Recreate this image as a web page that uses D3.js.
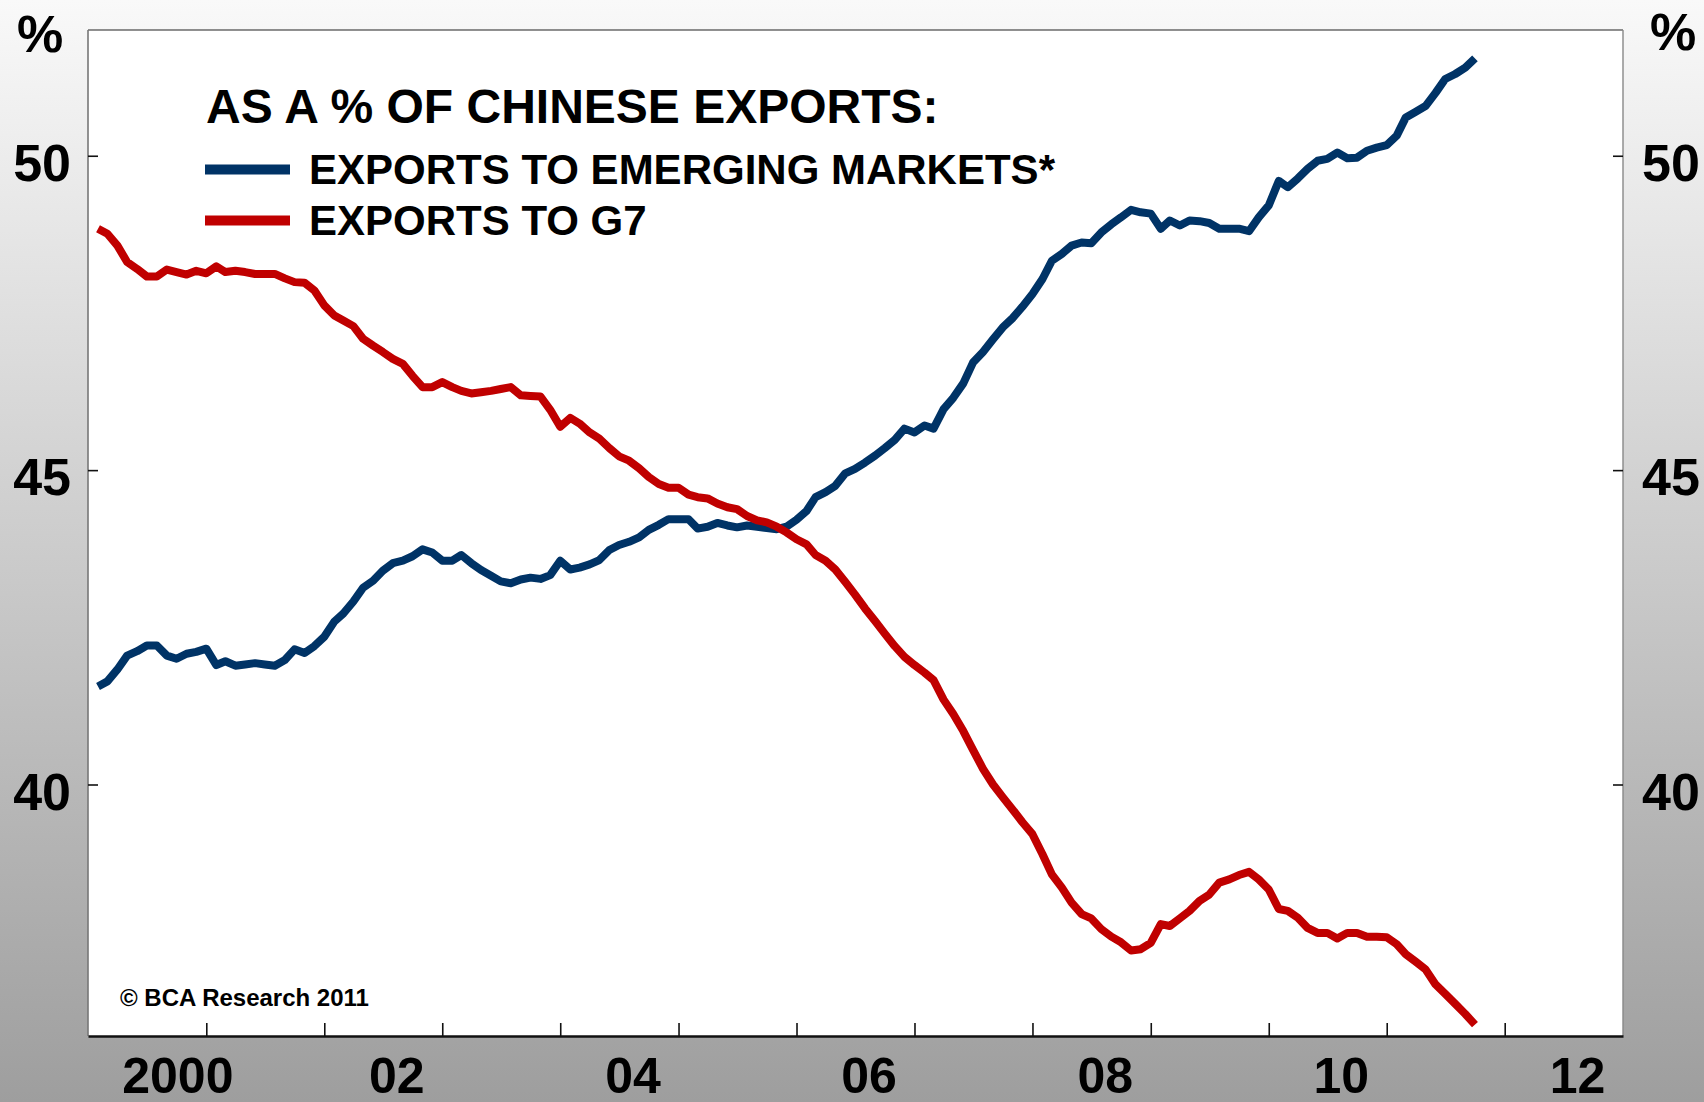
<!DOCTYPE html>
<html>
<head>
<meta charset="utf-8">
<script src="https://cdn.jsdelivr.net/npm/d3@7"></script>
<style>
  body { margin: 0; padding: 0; background: #ffffff; }
  text { font-family: "Liberation Sans", Arial, sans-serif; font-weight: bold; fill: #000; }
</style>
</head>
<body>
<div id="chart"></div>
<script>
// Chart data (monthly, starting Feb 2000)

var startMonth = "2000-02";

var emShare = [
  41.56, 41.64, 41.83, 42.05, 42.12, 42.21, 42.21, 42.05, 42.00, 42.08, 42.11, 42.16,
  41.90, 41.96, 41.89, 41.91, 41.93, 41.91, 41.89, 41.98, 42.15, 42.09, 42.20, 42.35,
  42.59, 42.72, 42.91, 43.13, 43.24, 43.40, 43.52, 43.56, 43.63, 43.74, 43.69, 43.56,
  43.56, 43.65, 43.52, 43.41, 43.32, 43.23, 43.20, 43.26, 43.29, 43.27, 43.33, 43.56,
  43.42, 43.45, 43.50, 43.57, 43.73, 43.81, 43.86, 43.93, 44.05, 44.13, 44.22, 44.22,
  44.22, 44.07, 44.10, 44.16, 44.12, 44.09, 44.12, 44.10, 44.08, 44.06, 44.10, 44.21,
  44.35, 44.57, 44.65, 44.75, 44.95, 45.02, 45.12, 45.23, 45.35, 45.48, 45.66, 45.60,
  45.71, 45.66, 45.97, 46.15, 46.38, 46.71, 46.88, 47.08, 47.27, 47.42, 47.60, 47.80,
  48.04, 48.33, 48.44, 48.57, 48.62, 48.61, 48.78, 48.91, 49.02, 49.14, 49.10, 49.08,
  48.84, 48.97, 48.89, 48.97, 48.96, 48.93, 48.84, 48.84, 48.84, 48.80, 49.02, 49.21,
  49.60, 49.50, 49.64, 49.79, 49.92, 49.95, 50.05, 49.96, 49.97, 50.08, 50.13, 50.17,
  50.32, 50.61, 50.70, 50.79, 51.00, 51.22, 51.30, 51.40, 51.55
];

var g7Share = [
  48.84, 48.76, 48.57, 48.31, 48.20, 48.08, 48.08, 48.19, 48.15, 48.11, 48.17, 48.13,
  48.24, 48.15, 48.17, 48.15, 48.12, 48.12, 48.12, 48.05, 47.99, 47.98, 47.86, 47.62,
  47.46, 47.38, 47.29, 47.09, 46.98, 46.88, 46.77, 46.69, 46.50, 46.32, 46.32, 46.40,
  46.32, 46.26, 46.22, 46.24, 46.26, 46.29, 46.32, 46.19, 46.18, 46.17, 45.96, 45.69,
  45.83, 45.74, 45.60, 45.50, 45.35, 45.22, 45.15, 45.03, 44.89, 44.78, 44.72, 44.72,
  44.61, 44.57, 44.55, 44.47, 44.41, 44.38, 44.27, 44.20, 44.17, 44.10, 44.01, 43.90,
  43.82, 43.65, 43.56, 43.42, 43.22, 43.02, 42.80, 42.60, 42.40, 42.20, 42.03, 41.90,
  41.78, 41.66, 41.35, 41.12, 40.85, 40.55, 40.25, 40.00, 39.80, 39.60, 39.40, 39.21,
  38.89, 38.57, 38.36, 38.12, 37.94, 37.87, 37.70, 37.58, 37.49, 37.36, 37.38, 37.48,
  37.78, 37.75, 37.87, 37.99, 38.15, 38.25, 38.44, 38.49, 38.56, 38.61, 38.49, 38.33,
  38.02, 37.99, 37.88, 37.72, 37.64, 37.64, 37.55, 37.64, 37.64, 37.58, 37.58, 37.57,
  37.46, 37.30, 37.18, 37.06, 36.82, 36.67, 36.51, 36.35, 36.18
];

var yTicks = [40, 45, 50];
var yearTicks = [2001, 2002, 2003, 2004, 2005, 2006, 2007, 2008, 2009, 2010, 2011, 2012];
var labelYears = [2000, 2002, 2004, 2006, 2008, 2010, 2012];
var yearLabels = ["2000", "02", "04", "06", "08", "10", "12"];

var legendTitle = "AS A % OF CHINESE EXPORTS:";
var seriesNames = ["EXPORTS TO EMERGING MARKETS*", "EXPORTS TO G7"];
var seriesColors = ["#003366", "#c00000"];
var credit = "\u00A9 BCA Research 2011";

var svgWidth = 1704;
var svgHeight = 1102;

var margin = {
  top: 30,
  right: 81,
  bottom: 66,
  left: 88
};

var width = svgWidth - margin.left - margin.right;
var height = svgHeight - margin.top - margin.bottom;

var svg = d3.select("#chart")
  .append("svg")
  .attr("width", svgWidth)
  .attr("height", svgHeight);

// Grey gradient backdrop

var grad = svg.append("defs").append("linearGradient")
  .attr("id", "bg")
  .attr("x1", 0).attr("y1", 0)
  .attr("x2", 0).attr("y2", 1);
grad.append("stop").attr("offset", "0%").attr("stop-color", "#f9f9f9");
grad.append("stop").attr("offset", "100%").attr("stop-color", "#9e9e9e");

svg.append("rect")
  .attr("width", svgWidth)
  .attr("height", svgHeight)
  .attr("fill", "url(#bg)");

var chartGroup = svg.append("g")
  .attr("transform", `translate(${margin.left}, ${margin.top})`);

chartGroup.append("rect")
  .attr("width", width)
  .attr("height", height)
  .attr("fill", "#ffffff");

// Parse dates

var parseMonth = d3.timeParse("%Y-%m");
var first = parseMonth(startMonth);
var months = emShare.map((v, i) => d3.timeMonth.offset(first, i));

// Create scale functions

var xTimeScale = d3.scaleTime()
  .domain([new Date(2000, 0, 1), new Date(2013, 0, 1)])
  .range([0, width]);

var yLinearScale = d3.scaleLinear()
  .domain([36, 52])
  .range([height, 0]);

// Frame

chartGroup.append("line")
  .attr("x1", 0).attr("x2", width).attr("y1", 0).attr("y2", 0)
  .attr("stroke", "#222").attr("stroke-width", 1.2);
chartGroup.append("line")
  .attr("x1", 0).attr("x2", 0).attr("y1", 0).attr("y2", height)
  .attr("stroke", "#777").attr("stroke-width", 1.6);
chartGroup.append("line")
  .attr("x1", width).attr("x2", width).attr("y1", 0).attr("y2", height)
  .attr("stroke", "#888").attr("stroke-width", 1.4);

// Axes (ticks pointing inward)

var bottomAxis = d3.axisBottom(xTimeScale)
  .tickValues(yearTicks.map(y => new Date(y, 0, 1)))
  .tickSizeInner(-13)
  .tickSizeOuter(0)
  .tickFormat("");

var leftAxis = d3.axisLeft(yLinearScale)
  .tickValues(yTicks)
  .tickSizeInner(-10)
  .tickSizeOuter(0)
  .tickFormat("");

var rightAxis = d3.axisRight(yLinearScale)
  .tickValues(yTicks)
  .tickSizeInner(-10)
  .tickSizeOuter(0)
  .tickFormat("");

var xAxisG = chartGroup.append("g")
  .attr("transform", `translate(0, ${height})`)
  .call(bottomAxis);
xAxisG.select(".domain").attr("stroke", "#111").attr("stroke-width", 2.6);
xAxisG.selectAll(".tick line").attr("stroke", "#111").attr("stroke-width", 1.6);

var yAxisG = chartGroup.append("g").call(leftAxis);
yAxisG.select(".domain").remove();
yAxisG.selectAll(".tick line").attr("stroke", "#111").attr("stroke-width", 1.6);

var yAxisR = chartGroup.append("g")
  .attr("transform", `translate(${width}, 0)`)
  .call(rightAxis);
yAxisR.select(".domain").remove();
yAxisR.selectAll(".tick line").attr("stroke", "#111").attr("stroke-width", 1.6);

// Tick labels

chartGroup.selectAll(".ylabL")
  .data(yTicks)
  .enter()
  .append("text")
  .attr("class", "ylabL")
  .attr("x", -17)
  .attr("y", d => yLinearScale(d) + 25)
  .attr("text-anchor", "end")
  .attr("font-size", "52px")
  .text(d => d);

chartGroup.selectAll(".ylabR")
  .data(yTicks)
  .enter()
  .append("text")
  .attr("class", "ylabR")
  .attr("x", width + 19)
  .attr("y", d => yLinearScale(d) + 25)
  .attr("text-anchor", "start")
  .attr("font-size", "52px")
  .text(d => d);

svg.append("text")
  .attr("x", 40).attr("y", 52)
  .attr("text-anchor", "middle")
  .attr("font-size", "52px")
  .text("%");

svg.append("text")
  .attr("x", 1673).attr("y", 50)
  .attr("text-anchor", "middle")
  .attr("font-size", "52px")
  .text("%");

chartGroup.selectAll(".xlab")
  .data(labelYears)
  .enter()
  .append("text")
  .attr("class", "xlab")
  .attr("x", d => xTimeScale(new Date(d, 6, 1)))
  .attr("dx", (d, i) => i === 0 ? 31 : 14)
  .attr("y", height + 57)
  .attr("text-anchor", "middle")
  .attr("font-size", "50px")
  .text((d, i) => yearLabels[i]);

// Lines

var line = d3.line()
  .x((d, i) => xTimeScale(months[i]))
  .y(d => yLinearScale(d));

[emShare, g7Share].forEach(function(series, k) {
  chartGroup.append("path")
    .datum(series)
    .attr("fill", "none")
    .attr("stroke", seriesColors[k])
    .attr("stroke-width", 8)
    .attr("stroke-linejoin", "round")
    .attr("d", line);
});

// Legend

svg.append("text")
  .attr("x", 206)
  .attr("y", 123)
  .attr("font-size", "48px")
  .text(legendTitle);

var legend = svg.selectAll(".legend")
  .data(seriesNames)
  .enter()
  .append("g")
  .attr("class", "legend")
  .attr("transform", (d, i) => `translate(0, ${169.5 + i * 51})`);

legend.append("line")
  .attr("x1", 205).attr("x2", 290)
  .attr("y1", 0).attr("y2", 0)
  .attr("stroke", (d, i) => seriesColors[i])
  .attr("stroke-width", 10);

legend.append("text")
  .attr("x", 309)
  .attr("y", 14)
  .attr("font-size", "42px")
  .text(d => d);

// Credit

svg.append("text")
  .attr("x", 120)
  .attr("y", 1006)
  .attr("font-size", "24px")
  .text(credit);
</script>
</body>
</html>
